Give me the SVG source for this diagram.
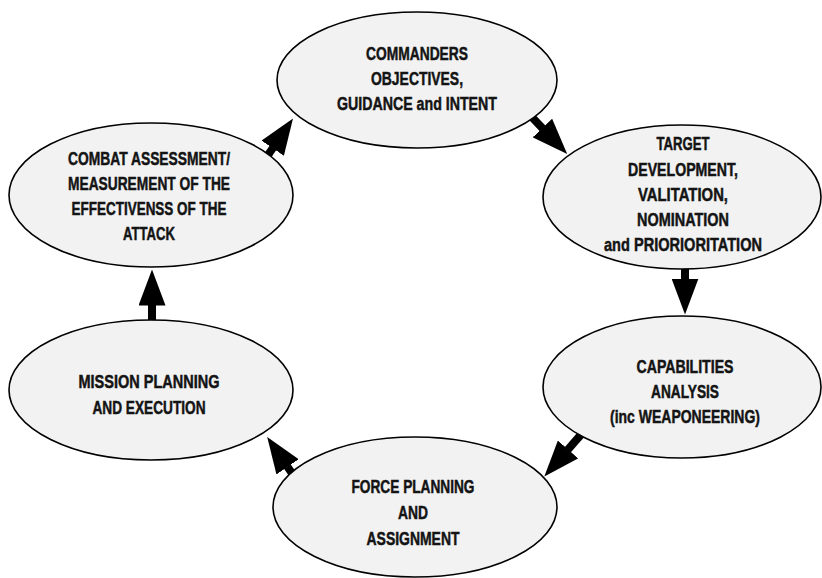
<svg xmlns="http://www.w3.org/2000/svg" width="822" height="578" viewBox="0 0 822 578">
<style>
.node ellipse{fill:#f2f2f2;stroke:#000;stroke-width:1.6}
.node text{font-family:"Liberation Sans","Arial",sans-serif;font-weight:bold;font-size:19px;fill:#141414;stroke:#141414;stroke-width:0.5;text-anchor:middle}
.conn line{stroke:#000;stroke-width:8;stroke-linecap:butt}
</style>
<defs>
<marker id="ah" viewBox="0 0 36 27" refX="0.5" refY="13.5" markerWidth="36" markerHeight="27" markerUnits="userSpaceOnUse" orient="auto">
<path d="M0,0 L36,13.5 L0,27 Z" fill="#000"/>
</marker>
</defs>
<rect width="822" height="578" fill="#fff"/>
<g id="connectors" class="conn">
<line x1="528" y1="113" x2="542.7" y2="128.4" marker-end="url(#ah)"/>
<line x1="685" y1="262" x2="685" y2="279" marker-end="url(#ah)"/>
<line x1="585" y1="430" x2="567.7" y2="449.8" marker-end="url(#ah)"/>
<line x1="298" y1="482" x2="287.3" y2="466.4" marker-end="url(#ah)"/>
<line x1="152" y1="325" x2="152" y2="305" marker-end="url(#ah)"/>
<line x1="264" y1="161" x2="273" y2="147.8" marker-end="url(#ah)"/>
</g>
<g id="n-commanders" class="node">
<ellipse cx="417" cy="80" rx="140" ry="68"/>
<text x="417" y="60" textLength="102" lengthAdjust="spacingAndGlyphs">COMMANDERS</text>
<text x="417" y="85" textLength="92" lengthAdjust="spacingAndGlyphs">OBJECTIVES,</text>
<text x="417" y="110" textLength="160" lengthAdjust="spacingAndGlyphs">GUIDANCE and INTENT</text>
</g>
<g id="n-target" class="node">
<ellipse cx="682" cy="197" rx="139" ry="72"/>
<text x="683" y="150" textLength="53" lengthAdjust="spacingAndGlyphs">TARGET</text>
<text x="683" y="176" textLength="110" lengthAdjust="spacingAndGlyphs">DEVELOPMENT,</text>
<text x="683" y="201" textLength="90" lengthAdjust="spacingAndGlyphs">VALITATION,</text>
<text x="683" y="226" textLength="92" lengthAdjust="spacingAndGlyphs">NOMINATION</text>
<text x="683" y="251" textLength="158" lengthAdjust="spacingAndGlyphs">and PRIORIORITATION</text>
</g>
<g id="n-capabilities" class="node">
<ellipse cx="682" cy="387" rx="139" ry="71"/>
<text x="685" y="373" textLength="97" lengthAdjust="spacingAndGlyphs">CAPABILITIES</text>
<text x="685" y="398" textLength="68" lengthAdjust="spacingAndGlyphs">ANALYSIS</text>
<text x="685" y="423" textLength="150" lengthAdjust="spacingAndGlyphs">(inc WEAPONEERING)</text>
</g>
<g id="n-force" class="node">
<ellipse cx="415" cy="507" rx="142" ry="70"/>
<text x="413" y="493" textLength="123" lengthAdjust="spacingAndGlyphs">FORCE PLANNING</text>
<text x="413" y="519" textLength="30" lengthAdjust="spacingAndGlyphs">AND</text>
<text x="413" y="545" textLength="93" lengthAdjust="spacingAndGlyphs">ASSIGNMENT</text>
</g>
<g id="n-mission" class="node">
<ellipse cx="151" cy="390" rx="142" ry="70"/>
<text x="149" y="388" textLength="141" lengthAdjust="spacingAndGlyphs">MISSION PLANNING</text>
<text x="149" y="414" textLength="113" lengthAdjust="spacingAndGlyphs">AND EXECUTION</text>
</g>
<g id="n-combat" class="node">
<ellipse cx="151" cy="195" rx="142" ry="72"/>
<text x="149" y="165" textLength="162" lengthAdjust="spacingAndGlyphs">COMBAT ASSESSMENT/</text>
<text x="149" y="190" textLength="162" lengthAdjust="spacingAndGlyphs">MEASUREMENT OF THE</text>
<text x="149" y="215" textLength="155" lengthAdjust="spacingAndGlyphs">EFFECTIVENSS OF THE</text>
<text x="149" y="240" textLength="52" lengthAdjust="spacingAndGlyphs">ATTACK</text>
</g>
</svg>
